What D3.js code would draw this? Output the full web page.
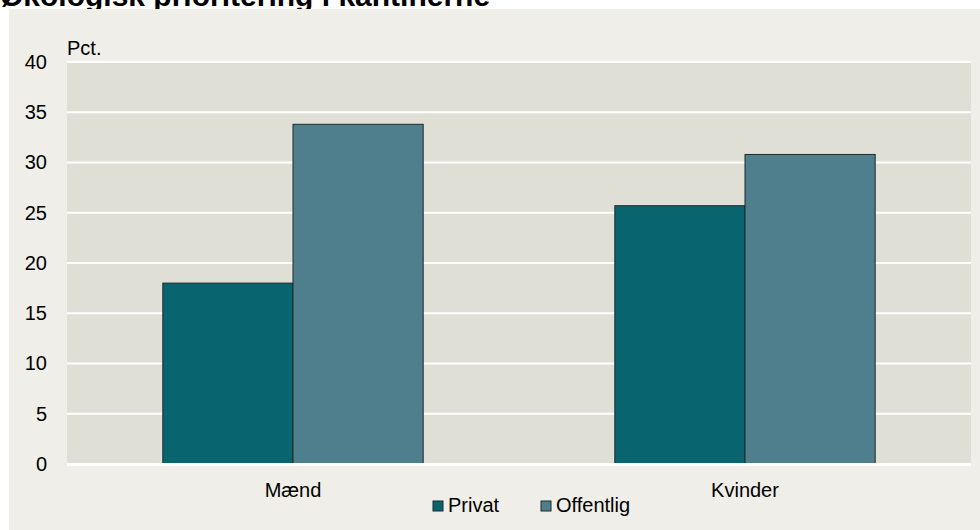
<!DOCTYPE html>
<html>
<head>
<meta charset="utf-8">
<script src="https://cdn.jsdelivr.net/npm/d3@7"></script>
<style>
  body { margin: 0; background: #fff; }
  svg { display: block; font-family: 'Liberation Sans', Arial, sans-serif; }
</style>
</head>
<body>
<svg width="980" height="530" viewBox="0 0 980 530"></svg>
<script>
const title = 'Økologisk prioritering i kantinerne'
const unitLabel = 'Pct.'
const categories = ['Mænd', 'Kvinder']
const seriesNames = ['Privat', 'Offentlig']
const privat = [18.0, 25.7]
const offentlig = [33.8, 30.8]
const yTicks = [0, 5, 10, 15, 20, 25, 30, 35, 40]
const colors = ['#08646f', '#4f7f8c']

const svg = d3.select('svg')
const [width, height] = svg.attr('viewBox').split(' ').slice(2).map(Number)

const plot = { left: 67, right: 971, top: 62, bottom: 464 }

// title sits behind the panel, only its lower part shows
svg.append('text')
  .attr('x', 0)
  .attr('y', 6)
  .attr('font-size', 30)
  .attr('font-weight', 'bold')
  .attr('fill', '#000')
  .text(title)

svg.append('rect')
  .attr('x', 9).attr('y', 9)
  .attr('width', width - 9).attr('height', height - 9)
  .attr('fill', '#efeee8')

svg.append('rect')
  .attr('x', plot.left).attr('y', plot.top)
  .attr('width', plot.right - plot.left).attr('height', plot.bottom - plot.top)
  .attr('fill', '#e0dfd5')

const yScale = d3.scaleLinear().domain([0, 40]).range([plot.bottom, plot.top])

const xScale = d3.scaleBand()
  .domain(categories)
  .range([plot.left, plot.right])
  .paddingInner(0.424)
  .paddingOuter(0.212)

const xSub = d3.scaleBand()
  .domain(seriesNames)
  .range([0, xScale.bandwidth()])

// gridlines
svg.append('g')
  .selectAll('line')
  .data(yTicks.filter(d => d > 0))
  .join('line')
  .attr('x1', plot.left).attr('x2', plot.right)
  .attr('y1', d => yScale(d)).attr('y2', d => yScale(d))
  .attr('stroke', '#fff')
  .attr('stroke-width', 2)

const rows = categories.map((c, i) => ({ cat: c, values: [privat[i], offentlig[i]] }))

const groups = svg.append('g')
  .selectAll('g')
  .data(rows)
  .join('g')
  .attr('transform', d => `translate(${xScale(d.cat)},0)`)

groups.selectAll('rect')
  .data(d => d.values.map((v, i) => ({ name: seriesNames[i], value: v, i })))
  .join('rect')
  .attr('x', d => xSub(d.name))
  .attr('y', d => yScale(d.value))
  .attr('width', xSub.bandwidth())
  .attr('height', d => yScale(0) - yScale(d.value))
  .attr('fill', d => colors[d.i])
  .attr('stroke', '#1e2a2c')
  .attr('stroke-width', 1)

// baseline
svg.append('line')
  .attr('x1', plot.left).attr('x2', plot.right)
  .attr('y1', yScale(0) + 0.5).attr('y2', yScale(0) + 0.5)
  .attr('stroke', '#fff')
  .attr('stroke-width', 3)

const yAxis = d3.axisLeft(yScale).tickValues(yTicks).tickSize(0).tickPadding(20)
svg.append('g')
  .attr('transform', `translate(${plot.left},0)`)
  .call(yAxis)
  .call(g => g.select('.domain').remove())
  .selectAll('text')
  .attr('font-size', 20)
  .attr('font-family', 'Liberation Sans, Arial, sans-serif')
  .attr('fill', '#000')

const xAxis = d3.axisBottom(xScale).tickSize(0).tickPadding(19)
svg.append('g')
  .attr('transform', `translate(0,${plot.bottom})`)
  .call(xAxis)
  .call(g => g.select('.domain').remove())
  .selectAll('text')
  .attr('font-size', 20)
  .attr('font-family', 'Liberation Sans, Arial, sans-serif')
  .attr('fill', '#000')

svg.append('text')
  .attr('x', plot.left)
  .attr('y', 55)
  .attr('font-size', 20)
  .attr('fill', '#000')
  .text(unitLabel)

// legend
const legendX = [433, 541]
const legend = svg.append('g')
  .selectAll('g')
  .data(seriesNames)
  .join('g')
  .attr('transform', (d, i) => `translate(${legendX[i]},501)`)

legend.append('rect')
  .attr('width', 10).attr('height', 10)
  .attr('fill', (d, i) => colors[i])
  .attr('stroke', '#1e2a2c')
  .attr('stroke-width', 1)

legend.append('text')
  .attr('x', 15)
  .attr('y', 11)
  .attr('font-size', 20)
  .attr('fill', '#000')
  .text(d => d)
</script>
</body>
</html>
